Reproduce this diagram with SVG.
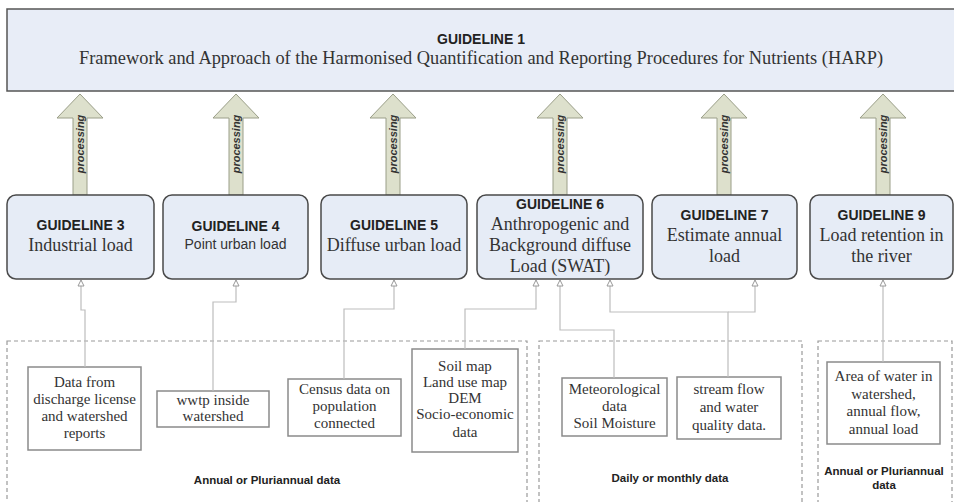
<svg xmlns="http://www.w3.org/2000/svg" width="954" height="502" viewBox="0 0 954 502">
<defs>
<style>
.gbox{fill:#e6ecf6;stroke:#4a4a4a;stroke-width:1.5}
.top{fill:#e8edf7;stroke:#555;stroke-width:1.5}
.hd{font-family:"Liberation Sans",Arial,sans-serif;font-weight:bold;font-size:14px;fill:#222;text-anchor:middle}
.sr{font-family:"Liberation Serif","Times New Roman",serif;font-size:18px;fill:#333;text-anchor:middle}
.ss{font-family:"Liberation Sans",Arial,sans-serif;font-size:14px;fill:#333;text-anchor:middle}
.arr{fill:#dde0cc;stroke:#9a9e88;stroke-width:1}
.proc{font-family:"Liberation Sans",Arial,sans-serif;font-weight:bold;font-style:italic;font-size:11px;fill:#333;text-anchor:middle}
.dbox{fill:#fff;stroke:#8a8a8a;stroke-width:1.5}
.dash{fill:none;stroke:#9a9a9a;stroke-width:1.2;stroke-dasharray:4,3}
.dt{font-family:"Liberation Serif","Times New Roman",serif;font-size:15px;fill:#333;text-anchor:middle}
.lbl{font-family:"Liberation Sans",Arial,sans-serif;font-weight:bold;font-size:11.5px;fill:#222;text-anchor:middle}
.con{fill:none;stroke:#bdbdbd;stroke-width:1.2;marker-end:url(#tri)}
</style>
<marker id="tri" markerWidth="8" markerHeight="8" refX="4" refY="1" orient="0" markerUnits="userSpaceOnUse" viewBox="0 0 8 8">
<path d="M4,1 L7,7 L1,7 Z" fill="#fff" stroke="#999" stroke-width="1"/>
</marker>
</defs>
<rect width="954" height="502" fill="#fff"/>

<g id="guideline1">
<rect class="top" x="7" y="9" width="955" height="82"/>
<text class="hd" x="481" y="44">GUIDELINE 1</text>
<text class="sr" x="481" y="64" textLength="804" lengthAdjust="spacingAndGlyphs">Framework and Approach of the Harmonised Quantification and Reporting Procedures for Nutrients (HARP)</text>
</g>

<g id="processing-arrows">
<g id="arrow3" transform="translate(80,0)"><path class="arr" d="M0,94 L23,118 L7,118 L7,195 L-7,195 L-7,118 L-23,118 Z"/><text class="proc" transform="translate(4,144) rotate(-90)">processing</text></g>
<g id="arrow4" transform="translate(236,0)"><path class="arr" d="M0,94 L23,118 L7,118 L7,195 L-7,195 L-7,118 L-23,118 Z"/><text class="proc" transform="translate(4,144) rotate(-90)">processing</text></g>
<g id="arrow5" transform="translate(393,0)"><path class="arr" d="M0,94 L23,118 L7,118 L7,195 L-7,195 L-7,118 L-23,118 Z"/><text class="proc" transform="translate(4,144) rotate(-90)">processing</text></g>
<g id="arrow6" transform="translate(560,0)"><path class="arr" d="M0,94 L23,118 L7,118 L7,195 L-7,195 L-7,118 L-23,118 Z"/><text class="proc" transform="translate(4,144) rotate(-90)">processing</text></g>
<g id="arrow7" transform="translate(724,0)"><path class="arr" d="M0,94 L23,118 L7,118 L7,195 L-7,195 L-7,118 L-23,118 Z"/><text class="proc" transform="translate(4,144) rotate(-90)">processing</text></g>
<g id="arrow9" transform="translate(883,0)"><path class="arr" d="M0,94 L23,118 L7,118 L7,195 L-7,195 L-7,118 L-23,118 Z"/><text class="proc" transform="translate(4,144) rotate(-90)">processing</text></g>
</g>

<g id="guideline3">
<rect class="gbox" x="7" y="195" width="147" height="84" rx="9"/>
<text class="hd" x="80.5" y="230">GUIDELINE 3</text>
<text class="sr" x="80.5" y="251">Industrial load</text>
</g>
<g id="guideline4">
<rect class="gbox" x="163" y="195" width="145" height="84" rx="9"/>
<text class="hd" x="235.5" y="231">GUIDELINE 4</text>
<text class="ss" x="235.5" y="249">Point urban load</text>
</g>
<g id="guideline5">
<rect class="gbox" x="321" y="195" width="146" height="84" rx="9"/>
<text class="hd" x="394" y="230">GUIDELINE 5</text>
<text class="sr" x="394" y="251">Diffuse urban load</text>
</g>
<g id="guideline6">
<rect class="gbox" x="477" y="195" width="166" height="84" rx="9"/>
<text class="hd" x="560" y="209">GUIDELINE 6</text>
<text class="sr" x="560" y="230">Anthropogenic and</text>
<text class="sr" x="560" y="251">Background diffuse</text>
<text class="sr" x="560" y="272">Load (SWAT)</text>
</g>
<g id="guideline7">
<rect class="gbox" x="652" y="195" width="145" height="84" rx="9"/>
<text class="hd" x="724.5" y="220">GUIDELINE 7</text>
<text class="sr" x="724.5" y="241">Estimate annual</text>
<text class="sr" x="724.5" y="262">load</text>
</g>
<g id="guideline9">
<rect class="gbox" x="810" y="195" width="143" height="84" rx="9"/>
<text class="hd" x="881.5" y="220">GUIDELINE 9</text>
<text class="sr" x="881.5" y="241">Load retention in</text>
<text class="sr" x="881.5" y="262">the river</text>
</g>

<g id="group-annual">
<rect class="dash" x="7" y="341" width="520" height="175"/>
<text class="lbl" x="267" y="484">Annual or Pluriannual data</text>
</g>
<g id="group-daily">
<rect class="dash" x="539" y="341" width="263" height="175"/>
<text class="lbl" x="670" y="482">Daily or monthly data</text>
</g>
<g id="group-annual2">
<rect class="dash" x="818" y="341" width="134" height="175"/>
<text class="lbl" x="884" y="475">Annual or Pluriannual</text>
<text class="lbl" x="884" y="489">data</text>
</g>

<g id="data-discharge">
<rect class="dbox" x="28" y="367" width="113" height="83"/>
<text class="dt" x="84.5" y="387">Data from</text>
<text class="dt" x="84.5" y="404">discharge license</text>
<text class="dt" x="84.5" y="421">and watershed</text>
<text class="dt" x="84.5" y="438">reports</text>
</g>
<g id="data-wwtp">
<rect class="dbox" x="157" y="391" width="112" height="36"/>
<text class="dt" x="213" y="405">wwtp inside</text>
<text class="dt" x="213" y="421">watershed</text>
</g>
<g id="data-census">
<rect class="dbox" x="288" y="379" width="113" height="57"/>
<text class="dt" x="344.5" y="394">Census data on</text>
<text class="dt" x="344.5" y="411">population</text>
<text class="dt" x="344.5" y="428">connected</text>
</g>
<g id="data-soil">
<rect class="dbox" x="412" y="349" width="106" height="103"/>
<text class="dt" x="465" y="371">Soil map</text>
<text class="dt" x="465" y="387">Land use map</text>
<text class="dt" x="465" y="403">DEM</text>
<text class="dt" x="465" y="419">Socio-economic</text>
<text class="dt" x="465" y="437">data</text>
</g>
<g id="data-meteo">
<rect class="dbox" x="562" y="378" width="105" height="58"/>
<text class="dt" x="614.5" y="394">Meteorological</text>
<text class="dt" x="614.5" y="411">data</text>
<text class="dt" x="614.5" y="428">Soil Moisture</text>
</g>
<g id="data-stream">
<rect class="dbox" x="677" y="377" width="104" height="62"/>
<text class="dt" x="729" y="394">stream flow</text>
<text class="dt" x="729" y="412">and water</text>
<text class="dt" x="729" y="430">quality data.</text>
</g>
<g id="data-area">
<rect class="dbox" x="827" y="362" width="113" height="82"/>
<text class="dt" x="883.5" y="381">Area of water in</text>
<text class="dt" x="883.5" y="399">watershed,</text>
<text class="dt" x="883.5" y="416">annual flow,</text>
<text class="dt" x="883.5" y="434">annual load</text>
</g>

<g id="connectors">
<path class="con" d="M85,367 V310 H81 V280"/>
<path class="con" d="M213,391 V302 H236 V280"/>
<path class="con" d="M344,379 V309 H394 V280"/>
<path class="con" d="M465,349 V309 H536 V280"/>
<path class="con" d="M614,378 V330 H560 V280"/>
<path class="con" d="M728,377 V312 H610 V280"/>
<path class="con" d="M728,312 H755 V280"/>
<path class="con" d="M883,362 V280"/>
</g>
</svg>
